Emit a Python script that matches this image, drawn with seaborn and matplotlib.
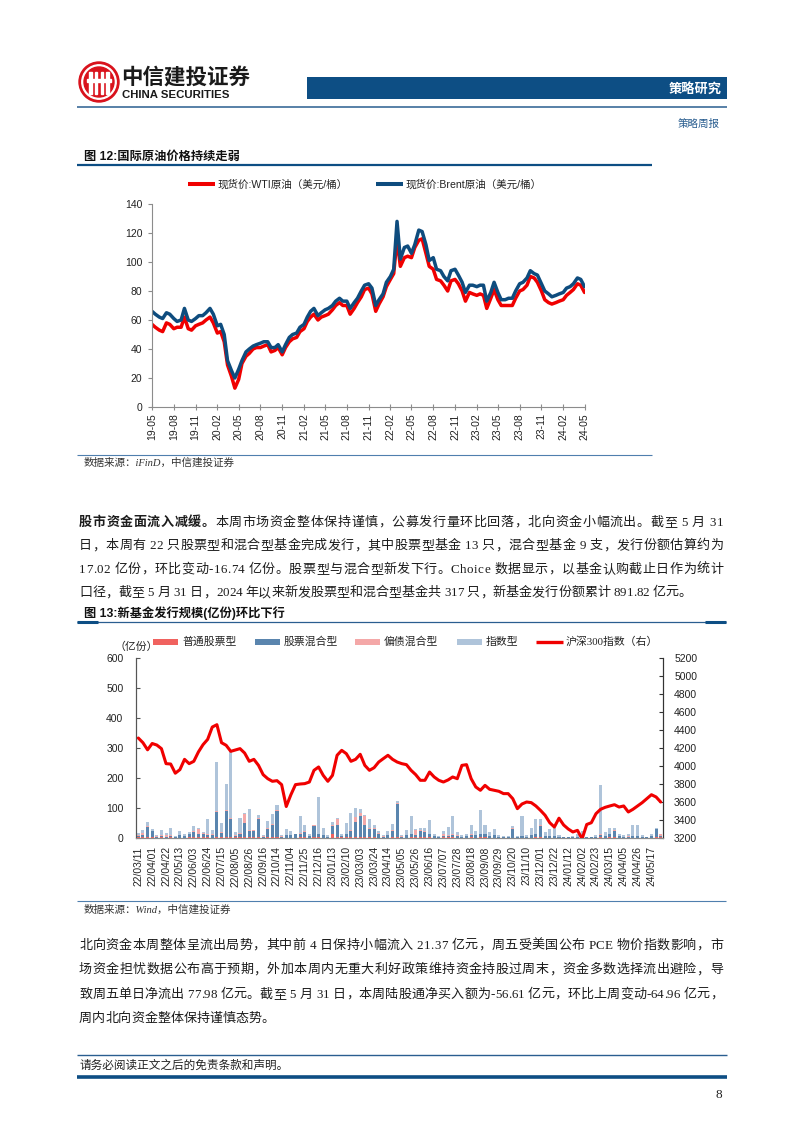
import numpy as np
import pandas as pd
import matplotlib
matplotlib.use('Agg')
import matplotlib.pyplot as plt
import matplotlib.dates as mdates
from matplotlib.lines import Line2D
from matplotlib.patches import Rectangle, Circle
from matplotlib.font_manager import findfont, FontProperties
from matplotlib.ft2font import FT2Font
import seaborn as sns

sns.set_theme(style='white')
plt.rcParams['font.family'] = ['Liberation Sans', 'Noto Sans CJK SC', 'DejaVu Sans']
plt.rcParams['axes.unicode_minus'] = False

CJK = 'Noto Sans CJK SC'
LAT = 'Liberation Serif'
NAVY = '#0D4E84'
RED = '#F00000'
OIL_BLUE = '#0E4C7E'
GRAY = '#8C8C8C'

# ---------------- data: crude oil, semi-monthly from 2019-05 ----------------
oil_start = '2019-05-01'
wti = [57, 55, 53, 52, 58, 57, 54, 55, 55, 62, 54, 53, 56, 57, 58, 60,
       62, 58, 51, 52, 45, 29, 21, 13, 19, 30, 35, 37, 40, 41, 41, 42, 43, 38, 39, 41, 36, 41, 45, 47,
       48, 52, 54, 59, 62, 64, 60, 62, 63, 64, 67, 70, 72, 70, 70, 64, 68, 72, 76, 81, 82, 78, 66, 71,
       76, 83, 88, 92, 116, 97, 103, 104, 103, 110, 115, 116, 106, 97, 95, 88, 87, 84, 80, 87, 88, 85, 80, 73,
       79, 78, 77, 78, 77, 68, 75, 81, 74, 70, 70, 70, 70, 75, 80, 81, 84, 90, 89, 86, 80, 74, 72, 71,
       72, 73, 74, 77, 79, 81, 85, 84, 79]
brent = [66, 64, 62, 61, 65, 64, 61, 59, 60, 68, 60, 59, 61, 63, 63, 65,
         68, 64, 56, 57, 50, 32, 25, 20, 26, 32, 38, 40, 42, 43, 44, 45, 45, 41, 41, 43, 38, 43, 48, 50,
         51, 55, 57, 62, 66, 68, 63, 65, 67, 68, 70, 73, 75, 73, 73, 68, 72, 75, 80, 84, 85, 82, 70, 74,
         78, 86, 90, 95, 128, 102, 110, 111, 106, 112, 122, 121, 112, 101, 103, 95, 94, 90, 87, 94, 95, 91, 86, 79,
         84, 84, 83, 84, 84, 73, 79, 86, 79, 74, 74, 75, 75, 80, 85, 86, 89, 94, 92, 91, 85, 80, 78, 76,
         77, 78, 79, 82, 83, 85, 89, 88, 83]

# ---------------- data: weekly new fund issuance (100m shares) ----------------
fund_ticks = ['22/03/11', '22/04/01', '22/04/22', '22/05/13', '22/06/03', '22/06/24', '22/07/15',
              '22/08/05', '22/08/26', '22/09/16', '22/10/14', '22/11/04', '22/11/25', '22/12/16',
              '23/01/13', '23/02/10', '23/03/03', '23/03/24', '23/04/14', '23/05/05', '23/05/26',
              '23/06/16', '23/07/07', '23/07/28', '23/08/18', '23/09/08', '23/09/29', '23/10/20',
              '23/11/10', '23/12/01', '23/12/22', '24/01/12', '24/02/02', '24/02/23', '24/03/15',
              '24/04/05', '24/04/26', '24/05/17']
common_stock = [3, 2, 3, 2, 1, 2, 1, 2, 1, 1, 1, 2, 2, 2, 2, 2, 1, 3, 2, 3,
                2, 2, 2, 4, 2, 2, 3, 1, 2, 2, 3, 1, 1, 1, 1, 2, 2, 1, 2, 2,
                1, 1, 12, 3, 2, 2, 2, 3, 2, 3, 2, 2, 1, 1, 1, 2, 3, 1, 1, 2,
                3, 2, 2, 2, 1, 1, 3, 2, 2, 1, 1, 1, 2, 1, 2, 2, 1, 1, 1, 1,
                1, 1, 1, 1, 1, 1, 2, 2, 1, 1, 1, 1, 1, 1, 1, 1, 1, 1, 1, 1,
                2, 1, 2, 2, 1, 1, 1, 1, 1, 1, 1, 1, 2, 5]
stock_mixed = [5, 8, 35, 20, 4, 6, 4, 5, 2, 8, 5, 10, 18, 10, 12, 8, 10, 85, 16, 87,
               63, 5, 13, 46, 23, 23, 62, 4, 28, 43, 87, 4, 8, 8, 13, 13, 18, 5, 38, 10,
               8, 3, 28, 42, 5, 10, 23, 52, 73, 40, 28, 28, 14, 4, 8, 23, 112, 4, 8, 10,
               8, 23, 18, 10, 5, 3, 5, 6, 8, 6, 3, 5, 8, 8, 10, 10, 5, 8, 3, 3,
               3, 30, 3, 5, 3, 8, 10, 38, 5, 5, 5, 3, 1, 1, 2, 3, 5, 1, 1, 3,
               8, 6, 12, 23, 5, 3, 3, 5, 5, 3, 1, 5, 28, 2]
bond_mixed = [3, 8, 2, 2, 1, 3, 6, 2, 1, 1, 1, 1, 2, 18, 2, 3, 2, 2, 2, 2,
              3, 2, 3, 30, 3, 1, 2, 1, 2, 2, 2, 1, 2, 1, 1, 2, 2, 1, 2, 2,
              2, 1, 2, 20, 1, 2, 2, 15, 10, 30, 2, 3, 1, 1, 1, 2, 2, 1, 2, 2,
              17, 2, 3, 2, 2, 1, 5, 2, 3, 3, 1, 1, 3, 1, 2, 2, 1, 1, 1, 1,
              1, 1, 1, 1, 1, 1, 2, 3, 1, 1, 1, 1, 1, 1, 1, 1, 1, 1, 1, 1,
              2, 1, 1, 2, 1, 1, 2, 1, 1, 1, 1, 2, 1, 6]
index_fund = [6, 8, 13, 6, 4, 17, 7, 23, 2, 15, 8, 6, 18, 5, 5, 50, 15, 165, 30, 88,
              222, 12, 50, 2, 70, 2, 11, 4, 26, 33, 18, 4, 18, 12, 0, 58, 23, 5, 3, 124,
              24, 5, 13, 2, 7, 36, 55, 30, 13, 5, 30, 12, 9, 4, 15, 21, 8, 4, 17, 58,
              2, 8, 12, 46, 7, 3, 12, 28, 62, 10, 5, 8, 30, 15, 81, 31, 13, 20, 5, 3,
              3, 8, 3, 65, 5, 25, 51, 22, 13, 23, 28, 5, 2, 2, 4, 10, 18, 2, 2, 5,
              166, 12, 17, 5, 8, 5, 6, 38, 38, 5, 2, 7, 2, 2]
hs300 = [4311, 4259, 4180, 4250, 4233, 4193, 4026, 4022, 3920, 3960,
         4074, 4026, 4052, 4156, 4237, 4296, 4433, 4459, 4259, 4230,
         4163, 4178, 4193, 4144, 4052, 4074, 4007, 3904, 3859, 3830,
         3837, 3793, 3550, 3680, 3793, 3800, 3804, 3822, 3952, 3989,
         3896, 3830, 3896, 4119, 4174, 4137, 4052, 4074, 4130, 4007,
         3952, 3981, 4044, 4082, 4119, 4074, 4044, 4026, 4015, 3952,
         3904, 3841, 3841, 3933, 3878, 3841, 3822, 3845, 3878, 3859,
         4007, 4015, 3859, 3767, 3730, 3785, 3741, 3730, 3719, 3693,
         3693, 3637, 3526, 3578, 3600, 3593, 3556, 3507, 3452, 3370,
         3322, 3420, 3345, 3300, 3267, 3285, 3190, 3350, 3370, 3470,
         3519, 3541, 3556, 3570, 3544, 3556, 3489, 3519, 3556, 3593,
         3637, 3681, 3656, 3600]

bar_names = ['普通股票型', '股票混合型', '偏债混合型', '指数型']
bar_colors = ['#F0625F', '#5A85AE', '#F4A8A8', '#AFC4DA']

para1 = ['股市资金面流入减缓。本周市场资金整体保持谨慎，公募发行量环比回落，北向资金小幅流出。截至 5 月 31',
         '日，本周有 22 只股票型和混合型基金完成发行，其中股票型基金 13 只，混合型基金 9 支，发行份额估算约为',
         '17.02 亿份，环比变动-16.74 亿份。股票型与混合型新发下行。Choice 数据显示，以基金认购截止日作为统计',
         '口径，截至 5 月 31 日，2024 年以来新发股票型和混合型基金共 317 只，新基金发行份额累计 891.82 亿元。']
para2 = ['北向资金本周整体呈流出局势，其中前 4 日保持小幅流入 21.37 亿元，周五受美国公布 PCE 物价指数影响，市',
         '场资金担忧数据公布高于预期，外加本周内无重大利好政策维持资金持股过周末，资金多数选择流出避险，导',
         '致周五单日净流出 77.98 亿元。截至 5 月 31 日，本周陆股通净买入额为-56.61 亿元，环比上周变动-64.96 亿元，',
         '周内北向资金整体保持谨慎态势。']

# ---------------- page helpers (pixel coordinates, y from top) ----------------
fig = plt.figure(figsize=(8.02, 11.33), dpi=100)
W, H = 802, 1133


def fx(x):
    return x / W


def fy(y):
    return 1 - y / H


def hline(x1, x2, y, color, lw):
    fig.add_artist(Line2D([fx(x1), fx(x2)], [fy(y), fy(y)], transform=fig.transFigure,
                          color=color, lw=lw, solid_capstyle='butt'))


def box(x1, y1, x2, y2, color):
    fig.add_artist(Rectangle((fx(x1), fy(y2)), (x2 - x1) / W, (y2 - y1) / H,
                             transform=fig.transFigure, color=color, lw=0))


def axes_px(l, t, r, b):
    return fig.add_axes([fx(l), fy(b), (r - l) / W, (b - t) / H])


_fonts = {}


def adv(ch, size, weight):
    fam = LAT if ord(ch) < 128 else CJK
    key = (fam, weight)
    if key not in _fonts:
        _fonts[key] = FT2Font(findfont(FontProperties(family=fam, weight=weight)), hinting_factor=1)
    f = _fonts[key]
    f.set_size(size, 100)
    return f.load_char(ord(ch)).linearHoriAdvance / 65536


def body_line(y, s, justify=True, nbold=0, x0=79, x1=723, size=9.4):
    ws = [adv(c, size, 'bold' if i < nbold else 'normal') for i, c in enumerate(s)]
    gap = (x1 - x0 - sum(ws)) / (len(s) - 1) if justify else 0
    base = y + 0.36 * size * 100 / 72
    x = x0
    for i, c in enumerate(s):
        if c != ' ':
            fig.text(fx(x), fy(base), c, fontsize=size, va='baseline', ha='left',
                     family=LAT if ord(c) < 128 else CJK,
                     weight='bold' if i < nbold else 'normal', color='#1c1c1c')
        x += ws[i] + gap


# ---------------- header ----------------
lg = axes_px(78, 61, 120, 103)
lg.set_xlim(-1.05, 1.05)
lg.set_ylim(-1.05, 1.05)
lg.set_aspect('equal')
lg.axis('off')
lg.add_patch(Circle((0, 0), 1, color='#D9121C'))
lg.add_patch(Circle((0, 0), 0.86, color='white'))
lg.add_patch(Circle((0, 0), 0.75, color='#D9121C'))
for xc in [-0.42, -0.14, 0.14, 0.42]:
    lg.add_patch(Rectangle((xc - 0.06, -0.62), 0.12, 1.1, color='white'))
lg.add_patch(Rectangle((-0.62, 0.02), 1.24, 0.12, color='white'))

fig.text(fx(121), fy(77), '中信建投证券', fontsize=15.5, weight='bold', family=CJK,
         va='center', ha='left', color='#1A1A1A')
fig.text(fx(122), fy(95), 'CHINA SECURITIES', fontsize=8.2, weight='bold',
         va='center', ha='left', color='#1A1A1A')
box(307, 77, 727, 99, NAVY)
fig.text(fx(722), fy(88.5), '策略研究', fontsize=9.5, weight='bold', family=CJK,
         color='white', va='center', ha='right')
hline(77, 727, 107, '#2A5E90', 1.1)
fig.text(fx(720), fy(124), '策略周报', fontsize=7.6, family=CJK, color='#2A5E90',
         va='center', ha='right')

# ---------------- figure 12: crude oil ----------------
fig.text(fx(84), fy(157), '图 12:国际原油价格持续走弱', fontsize=8.8, weight='bold',
         va='center', ha='left', color='#111111')
hline(77, 652, 165, NAVY, 1.6)

hline(188, 215, 184, RED, 2.9)
fig.text(fx(217), fy(184), '现货价:WTI原油（美元/桶）', fontsize=7.6, va='center', color='#222222')
hline(376, 403, 184, OIL_BLUE, 2.9)
fig.text(fx(405), fy(184), '现货价:Brent原油（美元/桶）', fontsize=7.6, va='center', color='#222222')

oil = pd.DataFrame({'date': pd.date_range(oil_start, periods=len(wti), freq='SMS'),
                    'WTI': wti, 'Brent': brent})
ax1 = axes_px(152, 204, 585, 407)
sns.lineplot(data=oil, x='date', y='WTI', ax=ax1, color=RED, lw=2.5)
sns.lineplot(data=oil, x='date', y='Brent', ax=ax1, color=OIL_BLUE, lw=2.5)
ax1.set_xlim(pd.Timestamp('2019-05-01'), pd.Timestamp('2024-05-03'))
ax1.set_ylim(0, 140)
ax1.set_yticks(range(0, 141, 20))
ax1.xaxis.set_major_locator(mdates.MonthLocator(bymonth=[2, 5, 8, 11]))
ax1.xaxis.set_major_formatter(mdates.DateFormatter('%y-%m'))
ax1.set_xlabel('')
ax1.set_ylabel('')
for s in ['top', 'right']:
    ax1.spines[s].set_visible(False)
for s in ['left', 'bottom']:
    ax1.spines[s].set_color(GRAY)
    ax1.spines[s].set_linewidth(0.8)
ax1.tick_params(axis='y', direction='out', length=3, width=0.8, color=GRAY,
                labelsize=7.5, pad=4, labelcolor='#222222', left=True)
ax1.tick_params(axis='x', direction='inout', length=5, width=0.8, color=GRAY,
                labelsize=7.5, pad=2, labelcolor='#222222', bottom=True, labelrotation=90)

hline(77, 652, 455, '#4F7FAE', 0.8)
fig.text(fx(84), fy(463), '数据来源：iFinD，中信建投证券', fontsize=7.6, style='italic',
         family=[LAT, CJK], va='center', color='#333333')

# ---------------- paragraph 1 ----------------
for i, line in enumerate(para1):
    body_line(521 + 23.5 * i, line, justify=(i < len(para1) - 1), nbold=10 if i == 0 else 0)

# ---------------- figure 13: new fund issuance ----------------
fig.text(fx(84), fy(613), '图 13:新基金发行规模(亿份)环比下行', fontsize=8.8, weight='bold',
         va='center', ha='left', color='#111111')
hline(77, 726, 622, '#2A5E90', 0.9)
hline(77, 98, 622, NAVY, 2.2)
hline(705, 726, 622, NAVY, 2.2)

leg_x = [153, 255, 355, 457]
for x0, name, col in zip(leg_x, bar_names, bar_colors):
    box(x0, 639, x0 + 25, 645, col)
    fig.text(fx(x0 + 29), fy(642), name, fontsize=7.8, family=CJK, va='center', color='#222222')
hline(536, 563, 642, RED, 2.4)
fig.text(fx(566), fy(642), '沪深300指数（右）', fontsize=7.8, family=[LAT, CJK], va='center', color='#222222')
fig.text(fx(114), fy(647), '（亿份）', fontsize=7.8, family=CJK, va='center', color='#222222')

wk = np.arange(len(hs300))
layers = [np.array(common_stock), np.array(stock_mixed), np.array(bond_mixed), np.array(index_fund)]
tops = np.cumsum(layers, axis=0)

ax = axes_px(136, 658, 663, 838)
for k in range(3, -1, -1):
    sns.barplot(x=wk, y=tops[k], color=bar_colors[k], width=0.66, saturation=1,
                errorbar=None, ax=ax, linewidth=0)
ax.set_ylim(0, 600)
ax.set_yticks(range(0, 601, 100))
ax.set_xticks(range(0, len(hs300), 3))
ax.set_xticklabels(fund_ticks, rotation=90)
ax.set_xlabel('')
ax.set_ylabel('')

ax2 = ax.twinx()
sns.lineplot(x=wk, y=hs300, ax=ax2, color=RED, lw=2.2)
ax2.set_ylim(3200, 5200)
ax2.set_yticks(range(3200, 5201, 200))
ax2.set_ylabel('')
ax.set_xlim(-0.5, len(hs300) - 0.5)

for a in [ax, ax2]:
    a.spines['top'].set_visible(False)
    a.spines['left'].set_color('#555555')
    a.spines['right'].set_color('#333333')
    a.spines['bottom'].set_color(GRAY)
    for s in a.spines.values():
        s.set_linewidth(0.8)
ax.tick_params(axis='y', direction='in', length=3, width=0.8, color='#555555',
               labelsize=7.5, pad=9, labelcolor='#222222', left=True)
ax.tick_params(axis='x', length=0, labelsize=7.4, pad=6, labelcolor='#222222')
ax2.tick_params(axis='y', direction='in', length=3, width=0.8, color='#333333',
                labelsize=7.5, pad=8, labelcolor='#222222', right=True)

hline(77, 726, 901, '#4F7FAE', 0.8)
fig.text(fx(84), fy(910), '数据来源：Wind，中信建投证券', fontsize=7.6, style='italic',
         family=[LAT, CJK], va='center', color='#333333')

# ---------------- paragraph 2 ----------------
for i, line in enumerate(para2):
    body_line(944 + 24.5 * i, line, justify=(i < len(para2) - 1))

# ---------------- footer ----------------
hline(77, 727, 1055, '#2A5E90', 1.0)
fig.text(fx(79), fy(1065), '请务必阅读正文之后的免责条款和声明。', fontsize=8.4, family=CJK,
         va='center', color='#222222')
hline(77, 727, 1077, NAVY, 2.6)
fig.text(fx(722), fy(1095), '8', fontsize=9.5, family=LAT, va='center', ha='right', color='#222222')

fig.savefig('out.png', dpi=100)
